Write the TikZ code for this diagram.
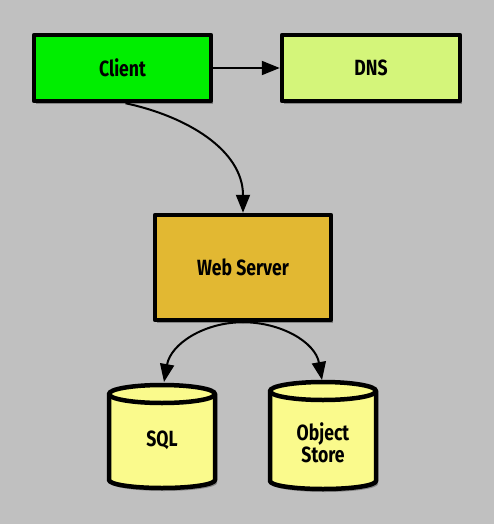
\documentclass[tikz,border=0pt]{standalone}
\usepackage{fontspec}
\newfontfamily\handfont{Fira Sans}[FakeStretch=0.8]
\usetikzlibrary{arrows.meta,shadows}
\definecolor{bgc}{RGB}{192,192,192}
\definecolor{clientc}{RGB}{0,238,0}
\definecolor{dnsc}{RGB}{212,245,122}
\definecolor{webc}{RGB}{226,184,50}
\definecolor{cylc}{RGB}{250,250,140}
\tikzset{
  boxstyle/.style={draw=black, line width=4.5pt, line join=round, inner sep=0pt,
    drop shadow={shadow xshift=2pt, shadow yshift=-3pt, opacity=0.3, fill=black}},
  cylstyle/.style={draw=black, fill=cylc, line width=4.5pt, line join=round,
    drop shadow={shadow xshift=2pt, shadow yshift=-3pt, opacity=0.3, fill=black}},
  cyltext/.style={inner sep=0pt, outer sep=0pt, minimum width=110pt, align=center},
  conn/.style={draw=black, line width=2pt, -{Triangle[length=18pt,width=14pt]}},
}
\begin{document}
\begin{tikzpicture}[x=1pt, y=-1pt, font=\handfont\bfseries\fontsize{22}{22}\selectfont]
\useasboundingbox (0,0) rectangle (494,524);
\fill[bgc] (0,0) rectangle (494,524);

% boxes
\node[boxstyle, fill=clientc, minimum width=177pt, minimum height=66pt] (client) at (122.5,68) {Client};
\node[boxstyle, fill=dnsc, minimum width=178pt, minimum height=66pt] (dns) at (371,68) {DNS};
\node[boxstyle, fill=webc, minimum width=176pt, minimum height=105pt] (web) at (243,267.5) {Web Server};

% cylinders
\path[cylstyle] (109,394) -- (109,480)
  arc[start angle=180, end angle=360, x radius=53pt, y radius=8pt]
  -- (215,394)
  arc[start angle=0, end angle=180, x radius=53pt, y radius=9pt] -- cycle;
\draw[line width=4.5pt] (109,394) arc[start angle=180, end angle=360, x radius=53pt, y radius=9pt];

\path[cylstyle] (270,391) -- (270,481)
  arc[start angle=180, end angle=360, x radius=53pt, y radius=8pt]
  -- (376,391)
  arc[start angle=0, end angle=180, x radius=53pt, y radius=9pt] -- cycle;
\draw[line width=4.5pt] (270,391) arc[start angle=180, end angle=360, x radius=53pt, y radius=9pt];

\node[cyltext, minimum height=116pt] (sql) at (162,440) {SQL};
\node[cyltext, minimum height=125pt] (obj) at (323,442.5) {Object\\Store};

% connectors
\draw[conn] (client) -- (dns);
\draw[conn] ([xshift=3pt]client.south) to[out=-12, in=90] (web.north);
\draw[conn] (web.south) to[out=180, in=80] ([xshift=2pt]sql.north);
\draw[conn] (web.south) to[out=0, in=100] ([xshift=-1pt]obj.north);
\end{tikzpicture}
\end{document}
